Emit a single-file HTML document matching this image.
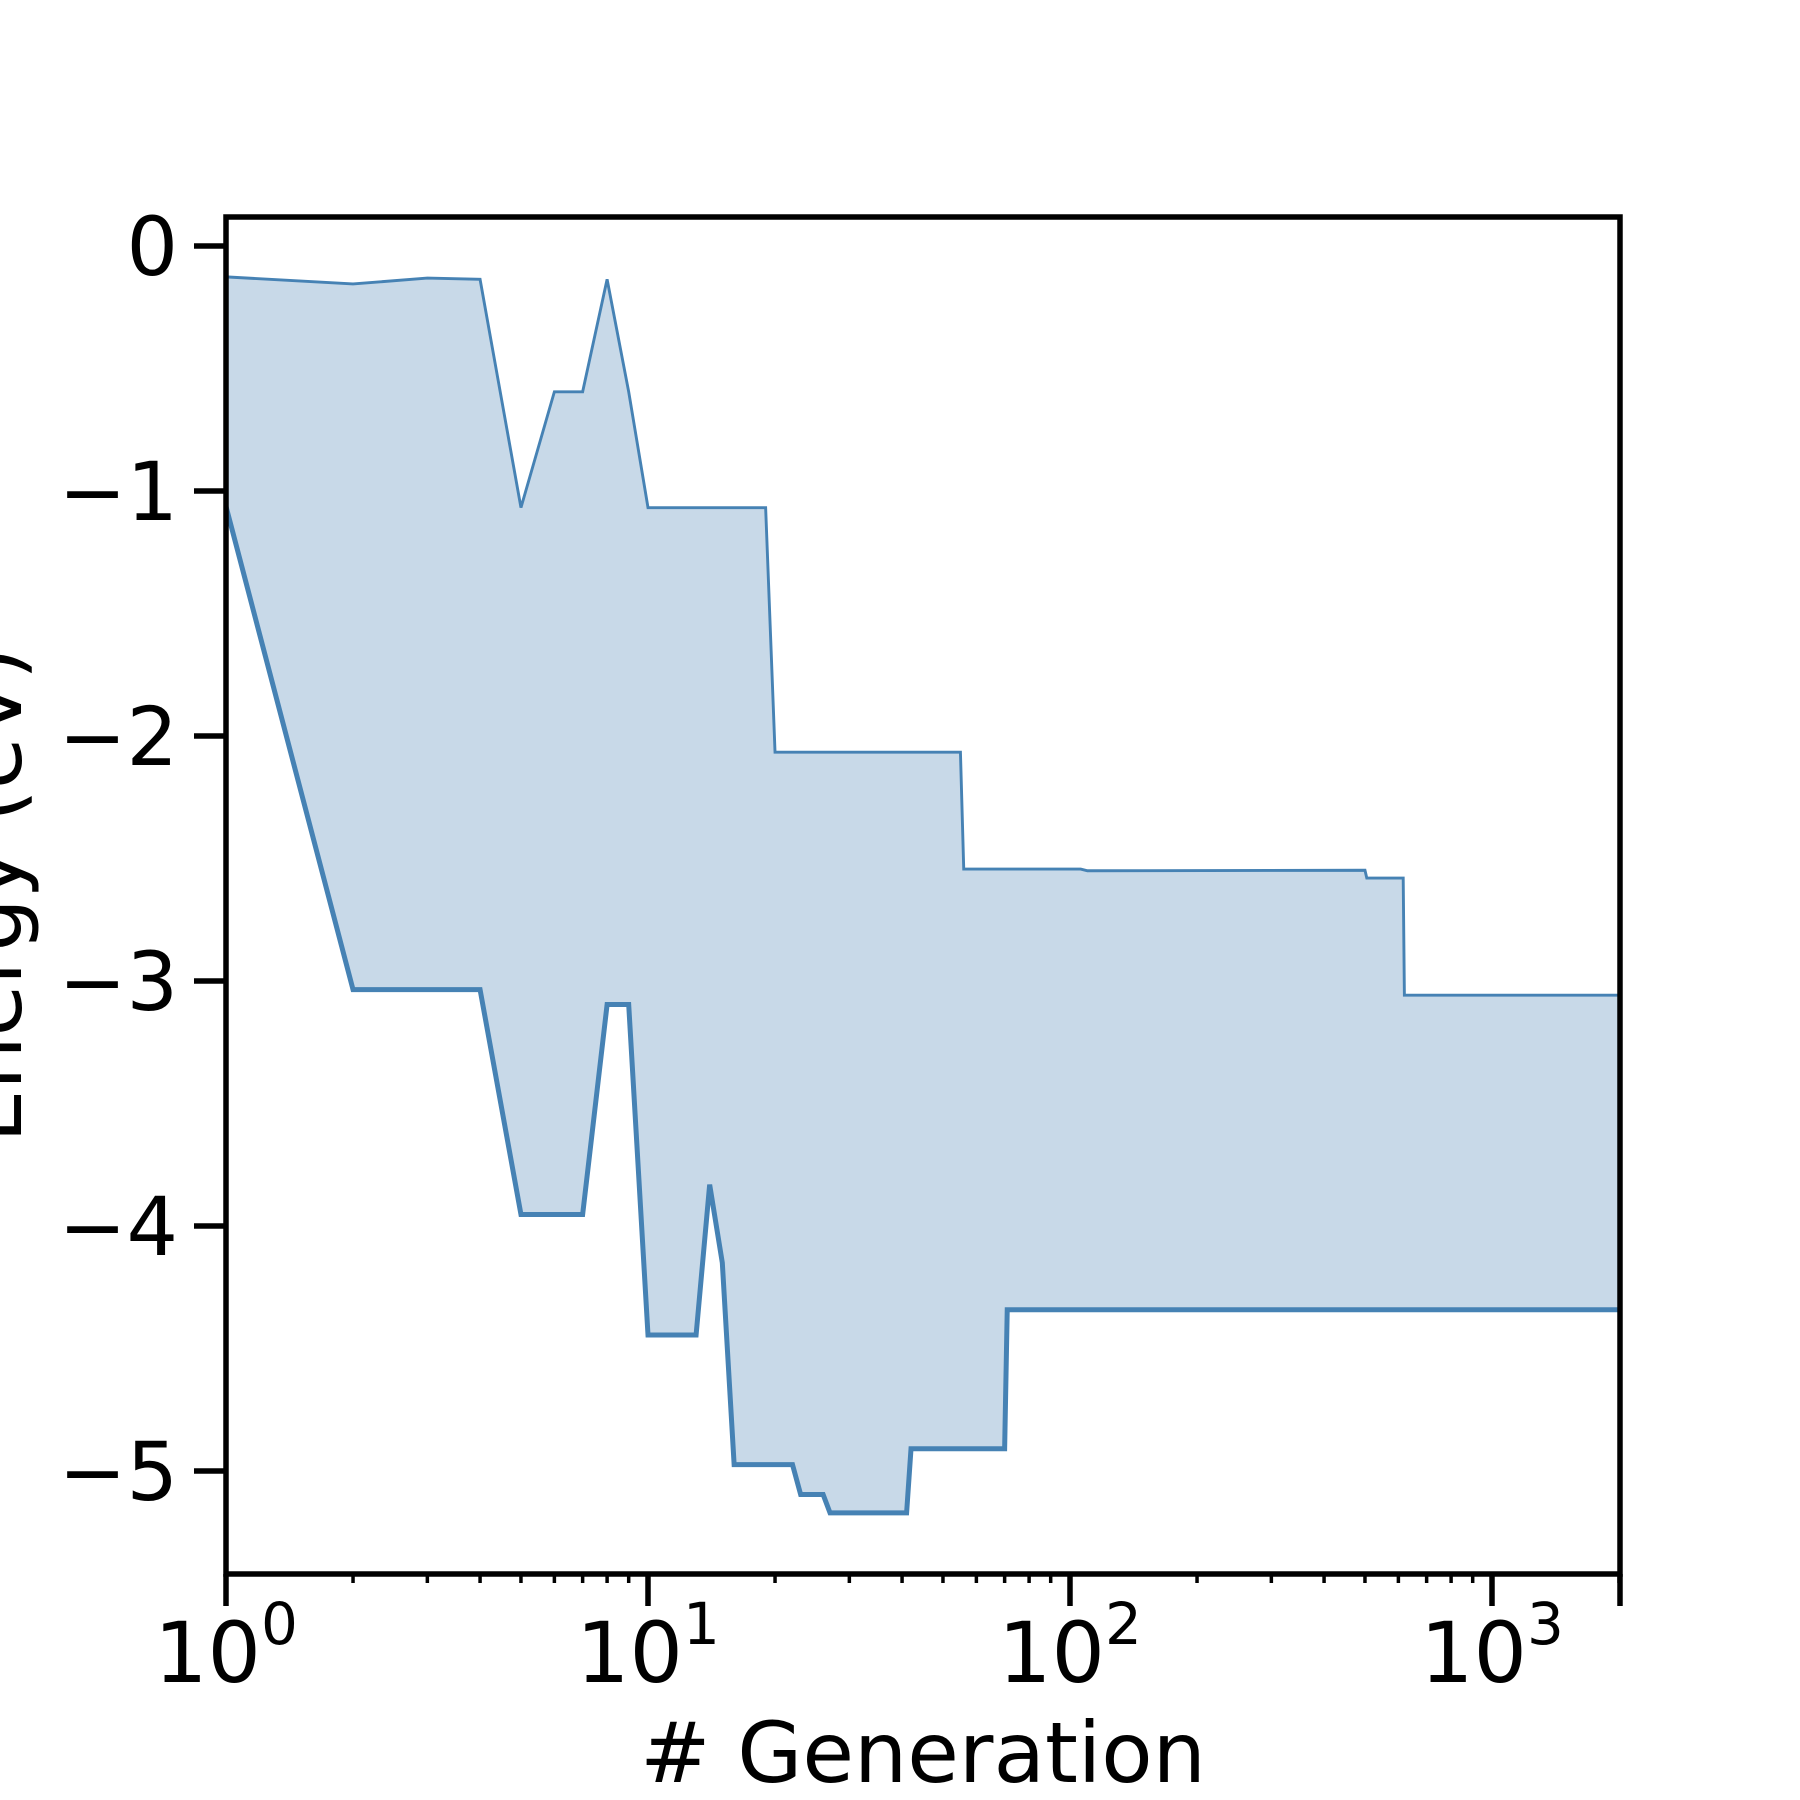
<!DOCTYPE html>
<html><head><meta charset="utf-8"><style>
html,body{margin:0;padding:0;background:#fff;}
svg{display:block;font-family:"DejaVu Sans","Liberation Sans",sans-serif;}
</style></head><body>
<svg id="chart" width="1800" height="1800" viewBox="0 0 1800 1800" xmlns="http://www.w3.org/2000/svg">
<g id="plot"></g>
<g id="axes"></g>
<text x="923" y="1782" font-size="84" text-anchor="middle">#&#160;Generation</text>
<text transform="translate(21,895) rotate(-90)" font-size="84" text-anchor="middle">Energy (eV)</text>
</svg>
<script>
const upperGen = [1,2,3,4,5,6,7,8,9,10,19,20,55,56,106,110,500,505,616,620,2000];
const upperE = [-0.126,-0.155,-0.131,-0.136,-1.068,-0.595,-0.595,-0.136,-0.595,-1.068,-1.068,-2.066,-2.066,-2.543,-2.543,-2.55,-2.548,-2.58,-2.58,-3.058,-3.058];
const lowerGen = [1,2,4,5,7,8,9,10,13,14,15,16,22,23,26,27,41,42,70,71,2000];
const lowerE = [-1.063,-3.035,-3.035,-3.953,-3.953,-3.096,-3.096,-4.445,-4.445,-3.831,-4.15,-4.974,-4.974,-5.096,-5.096,-5.171,-5.171,-4.909,-4.909,-4.342,-4.342];
const yTicks = [0,-1,-2,-3,-4,-5];
const yTickLabels = ["0","\u22121","\u22122","\u22123","\u22124","\u22125"];
const xTicks = [0,1,2,3];

const L=226,R=1620,T=217,B=1574, X0=226, DEC=422, Y0=246, UNIT=245;
const NS="http://www.w3.org/2000/svg";
function sx(g){return X0+Math.log10(g)*DEC;}
function sy(e){return Y0-e*UNIT;}
function mk(tag,attrs,parent){const el=document.createElementNS(NS,tag);for(const k in attrs)el.setAttribute(k,attrs[k]);parent.appendChild(el);return el;}
const plot=document.getElementById('plot'), axes=document.getElementById('axes');

const up=upperGen.map((g,i)=>[sx(g),sy(upperE[i])]);
const lo=lowerGen.map((g,i)=>[sx(g),sy(lowerE[i])]);
const fillPts=up.concat(lo.slice().reverse());
const band=mk('polygon',{points:fillPts.map(p=>p.join(',')).join(' '),fill:'#c8d9e8',stroke:'none'},plot);


const ul=mk('polyline',{points:up.map(p=>p.join(',')).join(' '),fill:'none',stroke:'#4682b4','stroke-width':2.9,'stroke-linejoin':'miter'},plot);


const ll=mk('polyline',{points:lo.map(p=>p.join(',')).join(' '),fill:'none',stroke:'#4682b4','stroke-width':5,'stroke-linejoin':'miter'},plot);



const frame=mk('rect',{x:L,y:T,width:R-L,height:B-T,fill:'none',stroke:'#000','stroke-width':5.5},axes);



yTicks.forEach((v,i)=>{
  const y=sy(v);
  const t=mk('line',{x1:L-32,x2:L,y1:y,y2:y,stroke:'#000','stroke-width':5.5},axes);
  
  
  const tx=mk('text',{x:178,y:y+29,'font-size':81,'text-anchor':'end'},axes);
  tx.textContent=yTickLabels[i];
  
  
});
xTicks.forEach(p=>{
  const x=sx(Math.pow(10,p));
  const t=mk('line',{x1:x,x2:x,y1:B,y2:B+32,stroke:'#000','stroke-width':5.5},axes);
  
  
  const tx=mk('text',{x:x,y:1682,'font-size':84,'text-anchor':'middle'},axes);
  
  
  tx.textContent='10';
  const sup=mk('tspan',{dy:-38,'font-size':58},tx);
  sup.textContent=String(p);
  for(let m=2;m<=9;m++){
    const g=m*Math.pow(10,p); const mx=sx(g);
    if(mx>R) break;
    const mt=mk('line',{x1:mx,x2:mx,y1:B,y2:B+9,stroke:'#000','stroke-width':3.5},axes);
    
    
  }
});
const et=mk('line',{x1:R,x2:R,y1:B,y2:B+32,stroke:'#000','stroke-width':5.5},axes);


</script>
</body></html>
